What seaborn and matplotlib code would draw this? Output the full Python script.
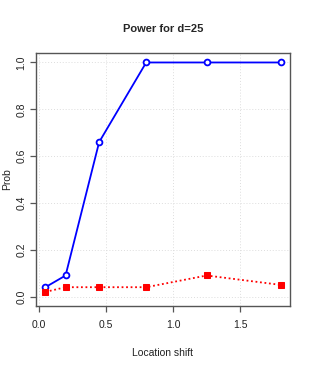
import numpy as np
import pandas as pd
import seaborn as sns
import matplotlib.pyplot as plt

# data
shift = [0.05, 0.2, 0.45, 0.8, 1.25, 1.8]
power_a = [0.04, 0.09, 0.66, 1.0, 1.0, 1.0]
power_b = [0.02, 0.04, 0.04, 0.04, 0.09, 0.05]
x_ticks = [0.0, 0.5, 1.0, 1.5]
y_ticks = [0.0, 0.2, 0.4, 0.6, 0.8, 1.0]

df = pd.DataFrame({'shift': shift, 'a': power_a, 'b': power_b})

sns.set_style('white')
plt.rcParams['font.family'] = ['Liberation Sans', 'DejaVu Sans']

fig = plt.figure(figsize=(3.09, 3.74), dpi=100)
ax = fig.add_axes([0.1165, 0.182, 0.822, 0.676])

# dotted grid at tick positions
for v in x_ticks:
    ax.axvline(v, color='#dddddd', lw=0.7, ls=(0, (1, 2)), zorder=0)
for v in y_ticks:
    ax.axhline(v, color='#dddddd', lw=0.7, ls=(0, (1, 2)), zorder=0)

sns.lineplot(data=df, x='shift', y='a', ax=ax, color='#0000ff', lw=1.3,
             marker='o', markersize=4.2, markerfacecolor='white',
             markeredgecolor='#0000ff', markeredgewidth=1.3)
sns.lineplot(data=df, x='shift', y='b', ax=ax, color='#ff0000', lw=1.3,
             ls=(0, (1, 1.5)), marker='s', markersize=4,
             markerfacecolor='#ff0000', markeredgecolor='#ff0000')

ax.set_xlim(-0.02, 1.87)
ax.set_ylim(-0.04, 1.04)

for s in ax.spines.values():
    s.set_visible(True)
    s.set_color('#555555')
    s.set_linewidth(1.0)

ax.set_xticks(x_ticks)
ax.set_xticklabels(['0.0', '0.5', '1.0', '1.5'])
ax.set_yticks(y_ticks)
ax.set_yticklabels(['0.0', '0.2', '0.4', '0.6', '0.8', '1.0'], rotation=90, va='center')
ax.tick_params(axis='both', which='both', length=4, width=0.9, color='#555555',
               labelsize=7.5, labelcolor='#222222', bottom=True, left=True)
ax.tick_params(axis='x', pad=6)
ax.tick_params(axis='y', pad=3)

ax.set_xlabel('Location shift', fontsize=7.5, color='#222222', labelpad=13)
ax.set_ylabel('Prob', fontsize=7.5, color='#222222', labelpad=3)
ax.set_title('Power for d=25', fontsize=8, fontweight='bold', pad=15)

fig.savefig('out.png', dpi=100)
